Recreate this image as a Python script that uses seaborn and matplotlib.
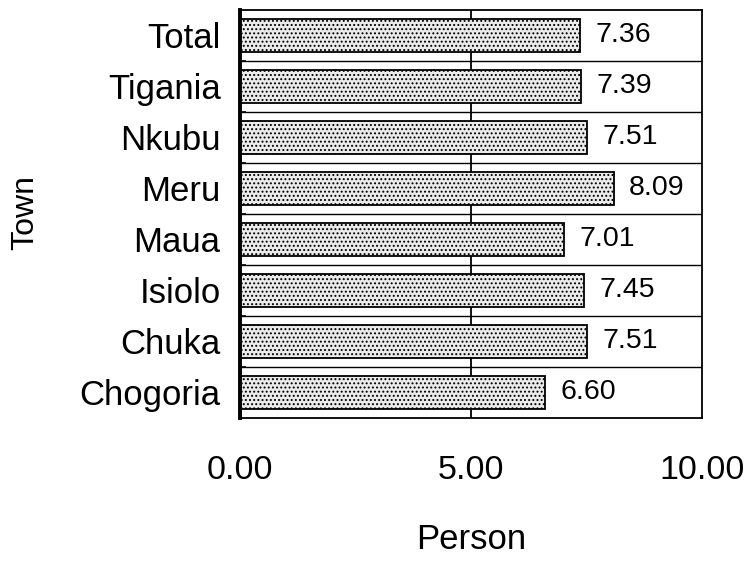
import matplotlib
matplotlib.use("Agg")
import matplotlib.pyplot as plt
import seaborn as sns
import pandas as pd

towns = ["Total", "Tigania", "Nkubu", "Meru", "Maua", "Isiolo", "Chuka", "Chogoria"]
persons = [7.36, 7.39, 7.51, 8.09, 7.01, 7.45, 7.51, 6.60]
xticks = [0.0, 5.0, 10.0]
xtick_labels = ["0.00", "5.00", "10.00"]

df = pd.DataFrame({"Town": towns, "Person": persons})

sns.set_theme(style="white")
plt.rcParams["font.family"] = ["Liberation Sans", "DejaVu Sans"]
plt.rcParams["text.color"] = "black"
plt.rcParams["axes.labelcolor"] = "black"
plt.rcParams["xtick.color"] = "black"
plt.rcParams["ytick.color"] = "black"
plt.rcParams["hatch.linewidth"] = 0.9

fig = plt.figure(figsize=(7.51, 5.71), dpi=100)
ax = fig.add_axes([0.3196, 0.268, 0.6152, 0.7145])

sns.barplot(data=df, x="Person", y="Town", orient="h", order=towns,
            color="#ebebeb", width=0.66, edgecolor="black", linewidth=1.3,
            ax=ax)
for patch in ax.patches:
    patch.set_hatch("....")

# value labels to the right of each bar
for i, v in enumerate(persons):
    ax.text(v + 0.33, i, f"{v:.2f}", va="center", ha="left", fontsize=20.5)

ax.set_xlim(0, 10)
ax.set_ylim(len(towns) - 0.5, -0.5)

# separators between categories and reference line at 5
for b in range(1, len(towns)):
    ax.axhline(b - 0.5, color="black", linewidth=1.0, zorder=0)
ax.axvline(5, color="black", linewidth=1.3, zorder=0)

ax.set_xticks(xticks)
ax.set_xticklabels(xtick_labels, fontsize=24.5)
ax.tick_params(axis="x", length=0, pad=27)
ax.tick_params(axis="y", labelsize=25, length=0, pad=14)
ax.set_yticks([b - 0.5 for b in range(1, len(towns))], minor=True)
ax.tick_params(axis="y", which="minor", left=True, length=4, width=1.2,
               direction="in", color="black")

ax.set_xlabel("Person", fontsize=25, va="center")
ax.xaxis.set_label_coords(0.5, -(540 - 418) / 408)
ax.set_ylabel("Town", fontsize=23, va="center")
ax.yaxis.set_label_coords(-(240 - 25) / 462, (418 - 213) / 408)

for side in ["top", "right", "bottom"]:
    ax.spines[side].set_linewidth(1.3)
    ax.spines[side].set_color("black")
ax.spines["left"].set_linewidth(2.8)
ax.spines["left"].set_color("black")

fig.savefig("out.png", dpi=100)
